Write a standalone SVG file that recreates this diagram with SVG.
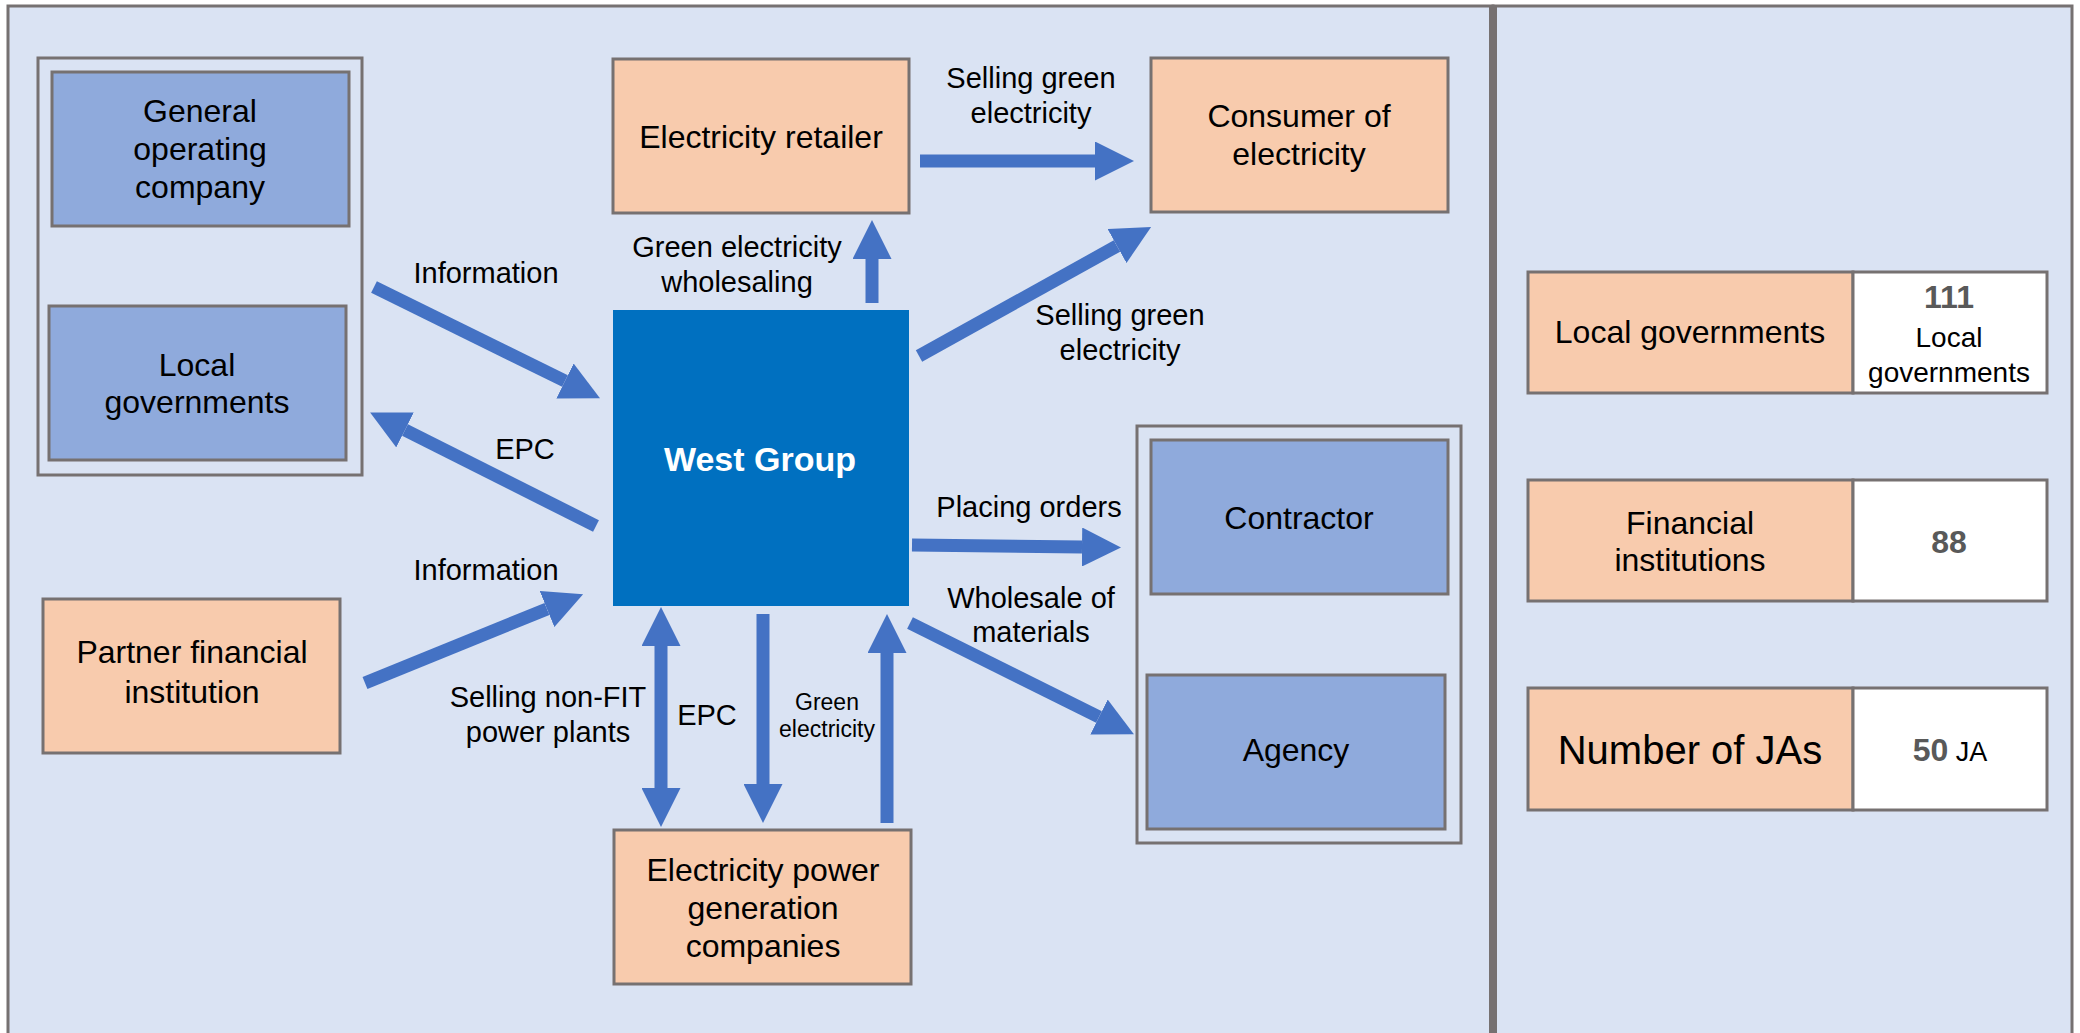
<svg xmlns="http://www.w3.org/2000/svg" width="2080" height="1033" viewBox="0 0 2080 1033">
<defs>
<style>
.panel{fill:#DAE3F3;stroke:#767171;stroke-width:3}
.grp{fill:none;stroke:#767171;stroke-width:3}
.org{fill:#F8CBAD;stroke:#767171;stroke-width:3}
.blu{fill:#8FAADC;stroke:#767171;stroke-width:3}
.wht{fill:#FFFFFF;stroke:#767171;stroke-width:3}
text{font-family:"Liberation Sans",Arial,sans-serif;fill:#000;text-anchor:middle}
.n{font-size:32px}
.e{font-size:29px}
.s{font-size:23px}
.num{font-size:32px;font-weight:bold;fill:#595959}
.wg{font-size:34px;font-weight:bold;fill:#FFFFFF}
.arr{stroke:#4472C4;stroke-width:13;fill:none;stroke-linecap:butt}
</style>
<marker id="ah" markerUnits="strokeWidth" markerWidth="3" markerHeight="3" viewBox="0 0 3 3" refX="0" refY="1.5" orient="auto-start-reverse">
<path d="M0,0 L3,1.5 L0,3 z" fill="#4472C4"/>
</marker>
</defs>

<g id="panels">
<rect class="panel" x="8" y="6" width="1485" height="1045"/>
<rect class="panel" x="1493" y="6" width="579" height="1045"/>
<line x1="1493" y1="5" x2="1493" y2="1040" stroke="#767171" stroke-width="8"/>
</g>

<g id="group-left">
<rect class="grp" x="38" y="58" width="324" height="417"/>
</g>
<g id="group-right">
<rect class="grp" x="1137" y="426" width="324" height="417"/>
</g>

<g id="node-general">
<rect class="blu" x="52" y="72" width="297" height="154"/>
<text class="n" x="200" y="122">General</text>
<text class="n" x="200" y="160">operating</text>
<text class="n" x="200" y="198">company</text>
</g>
<g id="node-localgov">
<rect class="blu" x="49" y="306" width="297" height="154"/>
<text class="n" x="197" y="376">Local</text>
<text class="n" x="197" y="413">governments</text>
</g>
<g id="node-partner">
<rect class="org" x="43" y="599" width="297" height="154"/>
<text class="n" x="192" y="663">Partner financial</text>
<text class="n" x="192" y="703">institution</text>
</g>
<g id="node-retailer">
<rect class="org" x="613" y="59" width="296" height="154"/>
<text class="n" x="761" y="148">Electricity retailer</text>
</g>
<g id="node-consumer">
<rect class="org" x="1151" y="58" width="297" height="154"/>
<text class="n" x="1299" y="127">Consumer of</text>
<text class="n" x="1299" y="165">electricity</text>
</g>
<g id="node-westgroup">
<rect x="613" y="310" width="296" height="296" fill="#0070C0"/>
<text class="wg" x="760" y="471">West Group</text>
</g>
<g id="node-contractor">
<rect class="blu" x="1151" y="440" width="297" height="154"/>
<text class="n" x="1299" y="529">Contractor</text>
</g>
<g id="node-agency">
<rect class="blu" x="1147" y="675" width="298" height="154"/>
<text class="n" x="1296" y="761">Agency</text>
</g>
<g id="node-powergen">
<rect class="org" x="614" y="830" width="297" height="154"/>
<text class="n" x="763" y="881">Electricity power</text>
<text class="n" x="763" y="919">generation</text>
<text class="n" x="763" y="957">companies</text>
</g>

<g id="connectors">
<line class="arr" x1="920" y1="161" x2="1095" y2="161" marker-end="url(#ah)"/>
<line class="arr" x1="872" y1="303" x2="872" y2="259" marker-end="url(#ah)"/>
<line class="arr" x1="919" y1="356" x2="1117" y2="246" marker-end="url(#ah)"/>
<line class="arr" x1="374" y1="287" x2="565" y2="381" marker-end="url(#ah)"/>
<line class="arr" x1="596" y1="526" x2="405" y2="430" marker-end="url(#ah)"/>
<line class="arr" x1="365" y1="683" x2="547" y2="609" marker-end="url(#ah)"/>
<line class="arr" x1="912" y1="545" x2="1082" y2="547" marker-end="url(#ah)"/>
<line class="arr" x1="910" y1="623" x2="1099" y2="717" marker-end="url(#ah)"/>
<line class="arr" x1="661" y1="646" x2="661" y2="788" marker-start="url(#ah)" marker-end="url(#ah)"/>
<line class="arr" x1="763" y1="614" x2="763" y2="784" marker-end="url(#ah)"/>
<line class="arr" x1="887" y1="823" x2="887" y2="653" marker-end="url(#ah)"/>
</g>

<g id="edge-labels">
<text class="e" x="1031" y="88">Selling green</text>
<text class="e" x="1031" y="123">electricity</text>
<text class="e" x="737" y="257">Green electricity</text>
<text class="e" x="737" y="292">wholesaling</text>
<text class="e" x="486" y="283">Information</text>
<text class="e" x="1120" y="325">Selling green</text>
<text class="e" x="1120" y="360">electricity</text>
<text class="e" x="525" y="459">EPC</text>
<text class="e" x="486" y="580">Information</text>
<text class="e" x="1029" y="517">Placing orders</text>
<text class="e" x="1031" y="608">Wholesale of</text>
<text class="e" x="1031" y="642">materials</text>
<text class="e" x="548" y="707">Selling non-FIT</text>
<text class="e" x="548" y="742">power plants</text>
<text class="e" x="707" y="725">EPC</text>
<text class="s" x="827" y="710">Green</text>
<text class="s" x="827" y="737">electricity</text>
</g>

<g id="row-localgov">
<rect class="org" x="1528" y="272" width="325" height="121"/>
<rect class="wht" x="1853" y="272" width="194" height="121"/>
<text class="n" x="1690" y="343">Local governments</text>
<text class="num" x="1949" y="308">111</text>
<text style="font-size:28px" x="1949" y="347">Local</text>
<text style="font-size:28px" x="1949" y="382">governments</text>
</g>
<g id="row-financial">
<rect class="org" x="1528" y="480" width="325" height="121"/>
<rect class="wht" x="1853" y="480" width="194" height="121"/>
<text class="n" x="1690" y="534">Financial</text>
<text class="n" x="1690" y="571">institutions</text>
<text class="num" x="1949" y="553">88</text>
</g>
<g id="row-ja">
<rect class="org" x="1528" y="688" width="325" height="122"/>
<rect class="wht" x="1853" y="688" width="194" height="122"/>
<text style="font-size:40px" x="1690" y="764">Number of JAs</text>
<text x="1950" y="761"><tspan class="num">50</tspan><tspan style="font-size:27px"> JA</tspan></text>
</g>
</svg>
